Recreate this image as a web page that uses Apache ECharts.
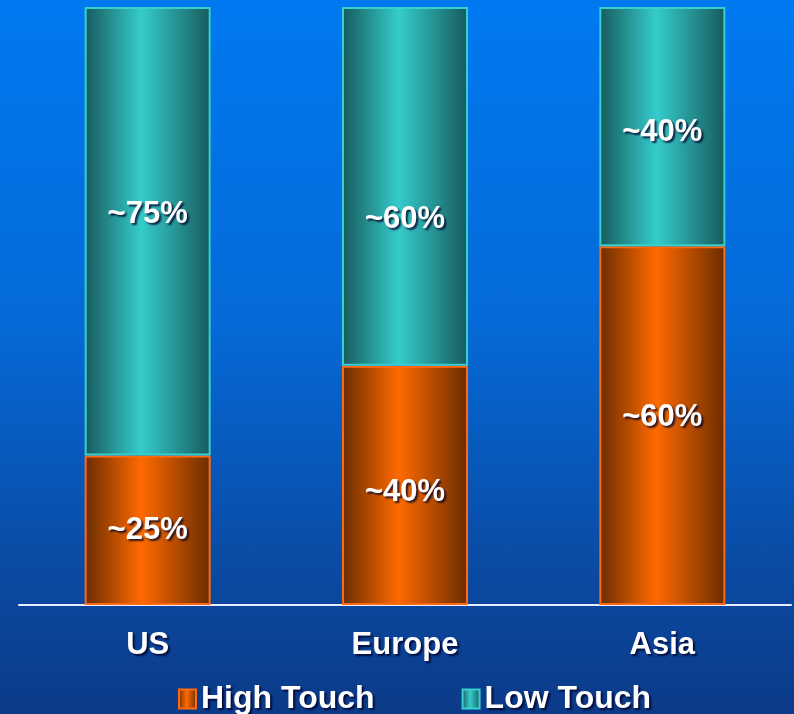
<!DOCTYPE html>
<html>
<head>
<meta charset="utf-8">
<script src="https://cdn.jsdelivr.net/npm/echarts@6/dist/echarts.min.js"></script>
<style>
  html, body { margin: 0; padding: 0; }
  body { background: linear-gradient(to bottom, #0079f0 0%, #056ad8 45%, #0a4aa2 80%, #0c3a88 100%); }
  #chart { width: 794px; height: 714px; }
</style>
</head>
<body>
<div id="chart"></div>
<script>
// Share of each region's market by touch model (stacked to 100%)
const regions = ['US', 'Europe', 'Asia'];
const highTouch = [25, 40, 60];
const lowTouch = [75, 60, 40];
const seriesNames = ['High Touch', 'Low Touch'];

// vertical label nudges (px) so text sits where it reads best in each segment
const highLabelShift = [0, 7, -8];
const lowLabelShift = [-17, 33, 6];

function cylinder(dark, light) {
  return new echarts.graphic.LinearGradient(0, 0, 1, 0, [
    { offset: 0, color: dark },
    { offset: 0.45, color: light },
    { offset: 1, color: dark }
  ]);
}

const textShadow = {
  color: '#ffffff',
  fontFamily: '"Liberation Sans", Arial, sans-serif',
  fontWeight: 'bold',
  fontSize: 31,
  textShadowColor: 'rgba(0,0,40,0.8)',
  textShadowBlur: 2,
  textShadowOffsetX: 2,
  textShadowOffsetY: 2
};

function segment(values, shifts) {
  return values.map((v, i) => ({
    value: v,
    label: { offset: [0, shifts[i]] }
  }));
}

const chart = echarts.init(document.getElementById('chart'), null, { renderer: 'canvas' });
chart.setOption({
  backgroundColor: 'transparent',
  animation: false,
  grid: { left: 19, right: 3, top: 7, bottom: 109 },
  legend: {
    bottom: -6,
    left: 173,
    itemWidth: 17,
    itemHeight: 19,
    itemGap: 87,
    icon: 'rect',
    textStyle: Object.assign({}, textShadow, { fontSize: 32 }),
    data: seriesNames
  },
  xAxis: {
    type: 'category',
    data: regions,
    axisLine: { lineStyle: { color: '#e8eeff', width: 2 } },
    axisTick: { show: false },
    axisLabel: Object.assign({}, textShadow, { fontSize: 31, margin: 25 })
  },
  yAxis: {
    type: 'value',
    min: 0,
    max: 100,
    show: false,
    splitLine: { show: false }
  },
  series: [
    {
      name: seriesNames[0],
      type: 'bar',
      stack: 'share',
      barWidth: 126,
      data: segment(highTouch, highLabelShift),
      itemStyle: {
        color: cylinder('#6a2c00', '#ff6a00'),
        borderColor: '#ff6a10',
        borderWidth: 2
      },
      label: Object.assign({ show: true, position: 'inside', formatter: '~{c}%' }, textShadow)
    },
    {
      name: seriesNames[1],
      type: 'bar',
      stack: 'share',
      barWidth: 126,
      data: segment(lowTouch, lowLabelShift),
      itemStyle: {
        color: cylinder('#175a5c', '#35cccc'),
        borderColor: '#36d0d0',
        borderWidth: 2
      },
      label: Object.assign({ show: true, position: 'inside', formatter: '~{c}%' }, textShadow)
    }
  ]
});
</script>
</body>
</html>
